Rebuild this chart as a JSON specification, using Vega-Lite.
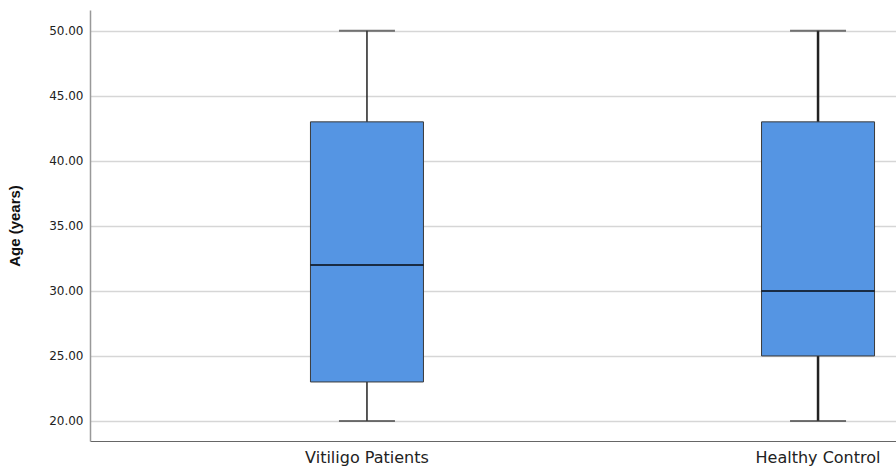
{
  "$schema": "https://vega.github.io/schema/vega-lite/v6.json",
  "width": 806,
  "height": 431,
  "autosize": {"type": "none"},
  "padding": {"left": 90, "top": 10, "right": 0, "bottom": 30},
  "background": "white",
  "config": {
    "view": {"stroke": null},
    "font": "DejaVu Sans"
  },
  "data": {
    "values": [
      {"group": "Vitiligo Patients", "lower": 20, "q1": 23, "median": 32, "q3": 43, "upper": 50},
      {"group": "Healthy Control", "lower": 20, "q1": 25, "median": 30, "q3": 43, "upper": 50}
    ]
  },
  "encoding": {
    "x": {
      "field": "group",
      "type": "nominal",
      "sort": null,
      "title": null,
      "scale": {"type": "band", "range": [0, 1005], "paddingInner": 0, "paddingOuter": 0.114},
      "axis": {
        "labelAngle": 0,
        "labelFont": "DejaVu Sans",
        "labelFontSize": 16,
        "labelColor": "#222222",
        "labelPadding": 8,
        "ticks": false,
        "domainColor": "#666666",
        "domainWidth": 1,
        "grid": false
      }
    }
  },
  "layer": [
    {
      "mark": {"type": "rule", "color": "#222222"},
      "encoding": {
        "y": {
          "field": "lower",
          "type": "quantitative",
          "scale": {"domain": [18.46, 51.6], "nice": false, "zero": false},
          "title": "Age (years)",
          "axis": {
            "values": [20, 25, 30, 35, 40, 45, 50],
            "format": ".2f",
            "labelFont": "DejaVu Sans",
            "labelFontSize": 12,
            "labelColor": "#222222",
            "labelPadding": 7,
            "ticks": false,
            "domainColor": "#999999",
            "domainWidth": 1.5,
            "gridColor": "#d6d6d6",
            "gridWidth": 1.5,
            "titleFont": "Liberation Sans",
            "titleFontSize": 15,
            "titleFontWeight": "bold",
            "titleColor": "#111111",
            "titlePadding": 26
          }
        },
        "y2": {"field": "upper"},
        "strokeWidth": {
          "field": "group",
          "type": "nominal",
          "scale": {"domain": ["Vitiligo Patients", "Healthy Control"], "range": [1.5, 2.5]},
          "legend": null
        }
      }
    },
    {
      "mark": {"type": "bar", "width": 113, "color": "#5595e3", "stroke": "#3a3a3a", "strokeWidth": 1},
      "encoding": {
        "y": {"field": "q1", "type": "quantitative"},
        "y2": {"field": "q3"}
      }
    },
    {
      "mark": {"type": "tick", "size": 113, "thickness": 2, "color": "#000000"},
      "encoding": {
        "y": {"field": "median", "type": "quantitative"}
      }
    },
    {
      "mark": {"type": "tick", "size": 56, "thickness": 2, "color": "#3a3a3a"},
      "encoding": {
        "y": {"field": "lower", "type": "quantitative"}
      }
    },
    {
      "mark": {"type": "tick", "size": 56, "thickness": 2, "color": "#3a3a3a"},
      "encoding": {
        "y": {"field": "upper", "type": "quantitative"}
      }
    }
  ]
}
